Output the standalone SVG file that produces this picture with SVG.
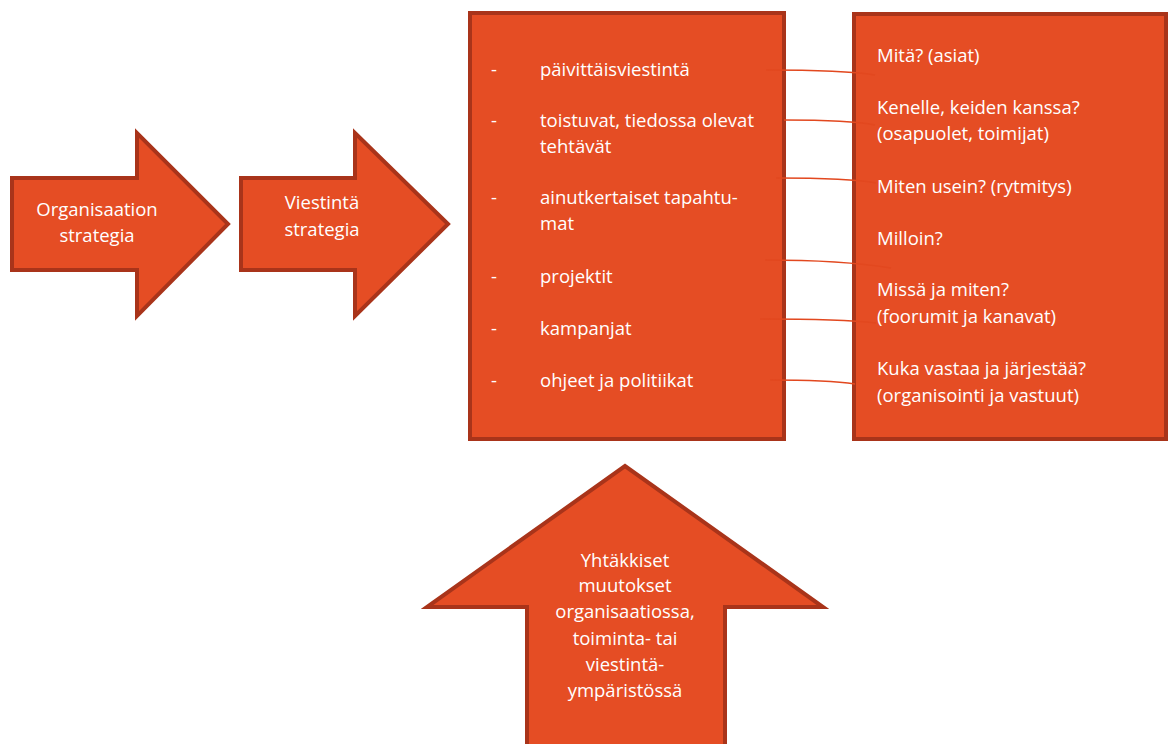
<svg xmlns="http://www.w3.org/2000/svg" width="1173" height="744" viewBox="0 0 1173 744">
  <style>
    .shape { fill: #E54D24; stroke: #A9341A; stroke-width: 4; stroke-linejoin: miter; }
    .txt { font-family: "Open Sans", "Liberation Sans", sans-serif; font-size: 18.5px; fill: #FFFFFF; }
    .mid { text-anchor: middle; }
    .link { fill: none; stroke: #E2481F; stroke-width: 1.6; }
  </style>

  <rect width="1173" height="744" fill="#FFFFFF"/>

  <!-- Strategy arrows -->
  <g id="org-strategy">
    <polygon class="shape" points="12,178 137,178 137,133 228,224 137,316 137,270 12,270"/>
    <text class="txt mid" x="97" y="216">Organisaation</text>
    <text class="txt mid" x="97" y="242">strategia</text>
  </g>

  <g id="comm-strategy">
    <polygon class="shape" points="241,178 355,178 355,133 448,224 355,316 355,270 241,270"/>
    <text class="txt mid" x="322" y="209">Viestintä</text>
    <text class="txt mid" x="322" y="236">strategia</text>
  </g>

  <!-- Communication types -->
  <g id="comm-types">
    <rect class="shape" x="470" y="13" width="314" height="426"/>
    <g class="txt">
      <text x="491" y="76">-</text><text x="540" y="76">päivittäisviestintä</text>
      <text x="491" y="127">-</text><text x="540" y="127">toistuvat, tiedossa olevat</text>
      <text x="540" y="153">tehtävät</text>
      <text x="491" y="204">-</text><text x="540" y="204">ainutkertaiset tapahtu-</text>
      <text x="540" y="230">mat</text>
      <text x="491" y="283">-</text><text x="540" y="283">projektit</text>
      <text x="491" y="335">-</text><text x="540" y="335">kampanjat</text>
      <text x="491" y="387">-</text><text x="540" y="387">ohjeet ja politiikat</text>
    </g>
  </g>

  <!-- Planning questions -->
  <g id="questions">
    <rect class="shape" x="854" y="14" width="312" height="425"/>
    <g class="txt">
      <text x="877" y="62">Mitä? (asiat)</text>
      <text x="877" y="114">Kenelle, keiden kanssa?</text>
      <text x="877" y="140">(osapuolet, toimijat)</text>
      <text x="877" y="193">Miten usein? (rytmitys)</text>
      <text x="877" y="245">Milloin?</text>
      <text x="877" y="296">Missä ja miten?</text>
      <text x="877" y="323">(foorumit ja kanavat)</text>
      <text x="877" y="375">Kuka vastaa ja järjestää?</text>
      <text x="877" y="402">(organisointi ja vastuut)</text>
    </g>
  </g>

  <!-- Sudden changes arrow -->
  <g id="sudden-changes">
    <polygon class="shape" points="527,748 527,607 427,607 625,466 823,607 725,607 725,748"/>
    <g class="txt mid">
      <text x="625" y="567">Yhtäkkiset</text>
      <text x="625" y="592">muutokset</text>
      <text x="625" y="618">organisaatiossa,</text>
      <text x="625" y="645">toiminta- tai</text>
      <text x="625" y="671">viestintä-</text>
      <text x="625" y="697">ympäristössä</text>
    </g>
  </g>

  <!-- Connectors between the two lists -->
  <g id="connectors">
    <path class="link" d="M766,70 C820,70 850,71 875,75"/>
    <path class="link" d="M784,120 C830,120 855,121 875,125"/>
    <path class="link" d="M776,178 C825,178 855,179 876,183"/>
    <path class="link" d="M765,260 C820,260 860,263 891,268"/>
    <path class="link" d="M760,319 C815,319 850,320 876,323"/>
    <path class="link" d="M770,380 C810,380 835,381 855,384"/>
  </g>
</svg>
